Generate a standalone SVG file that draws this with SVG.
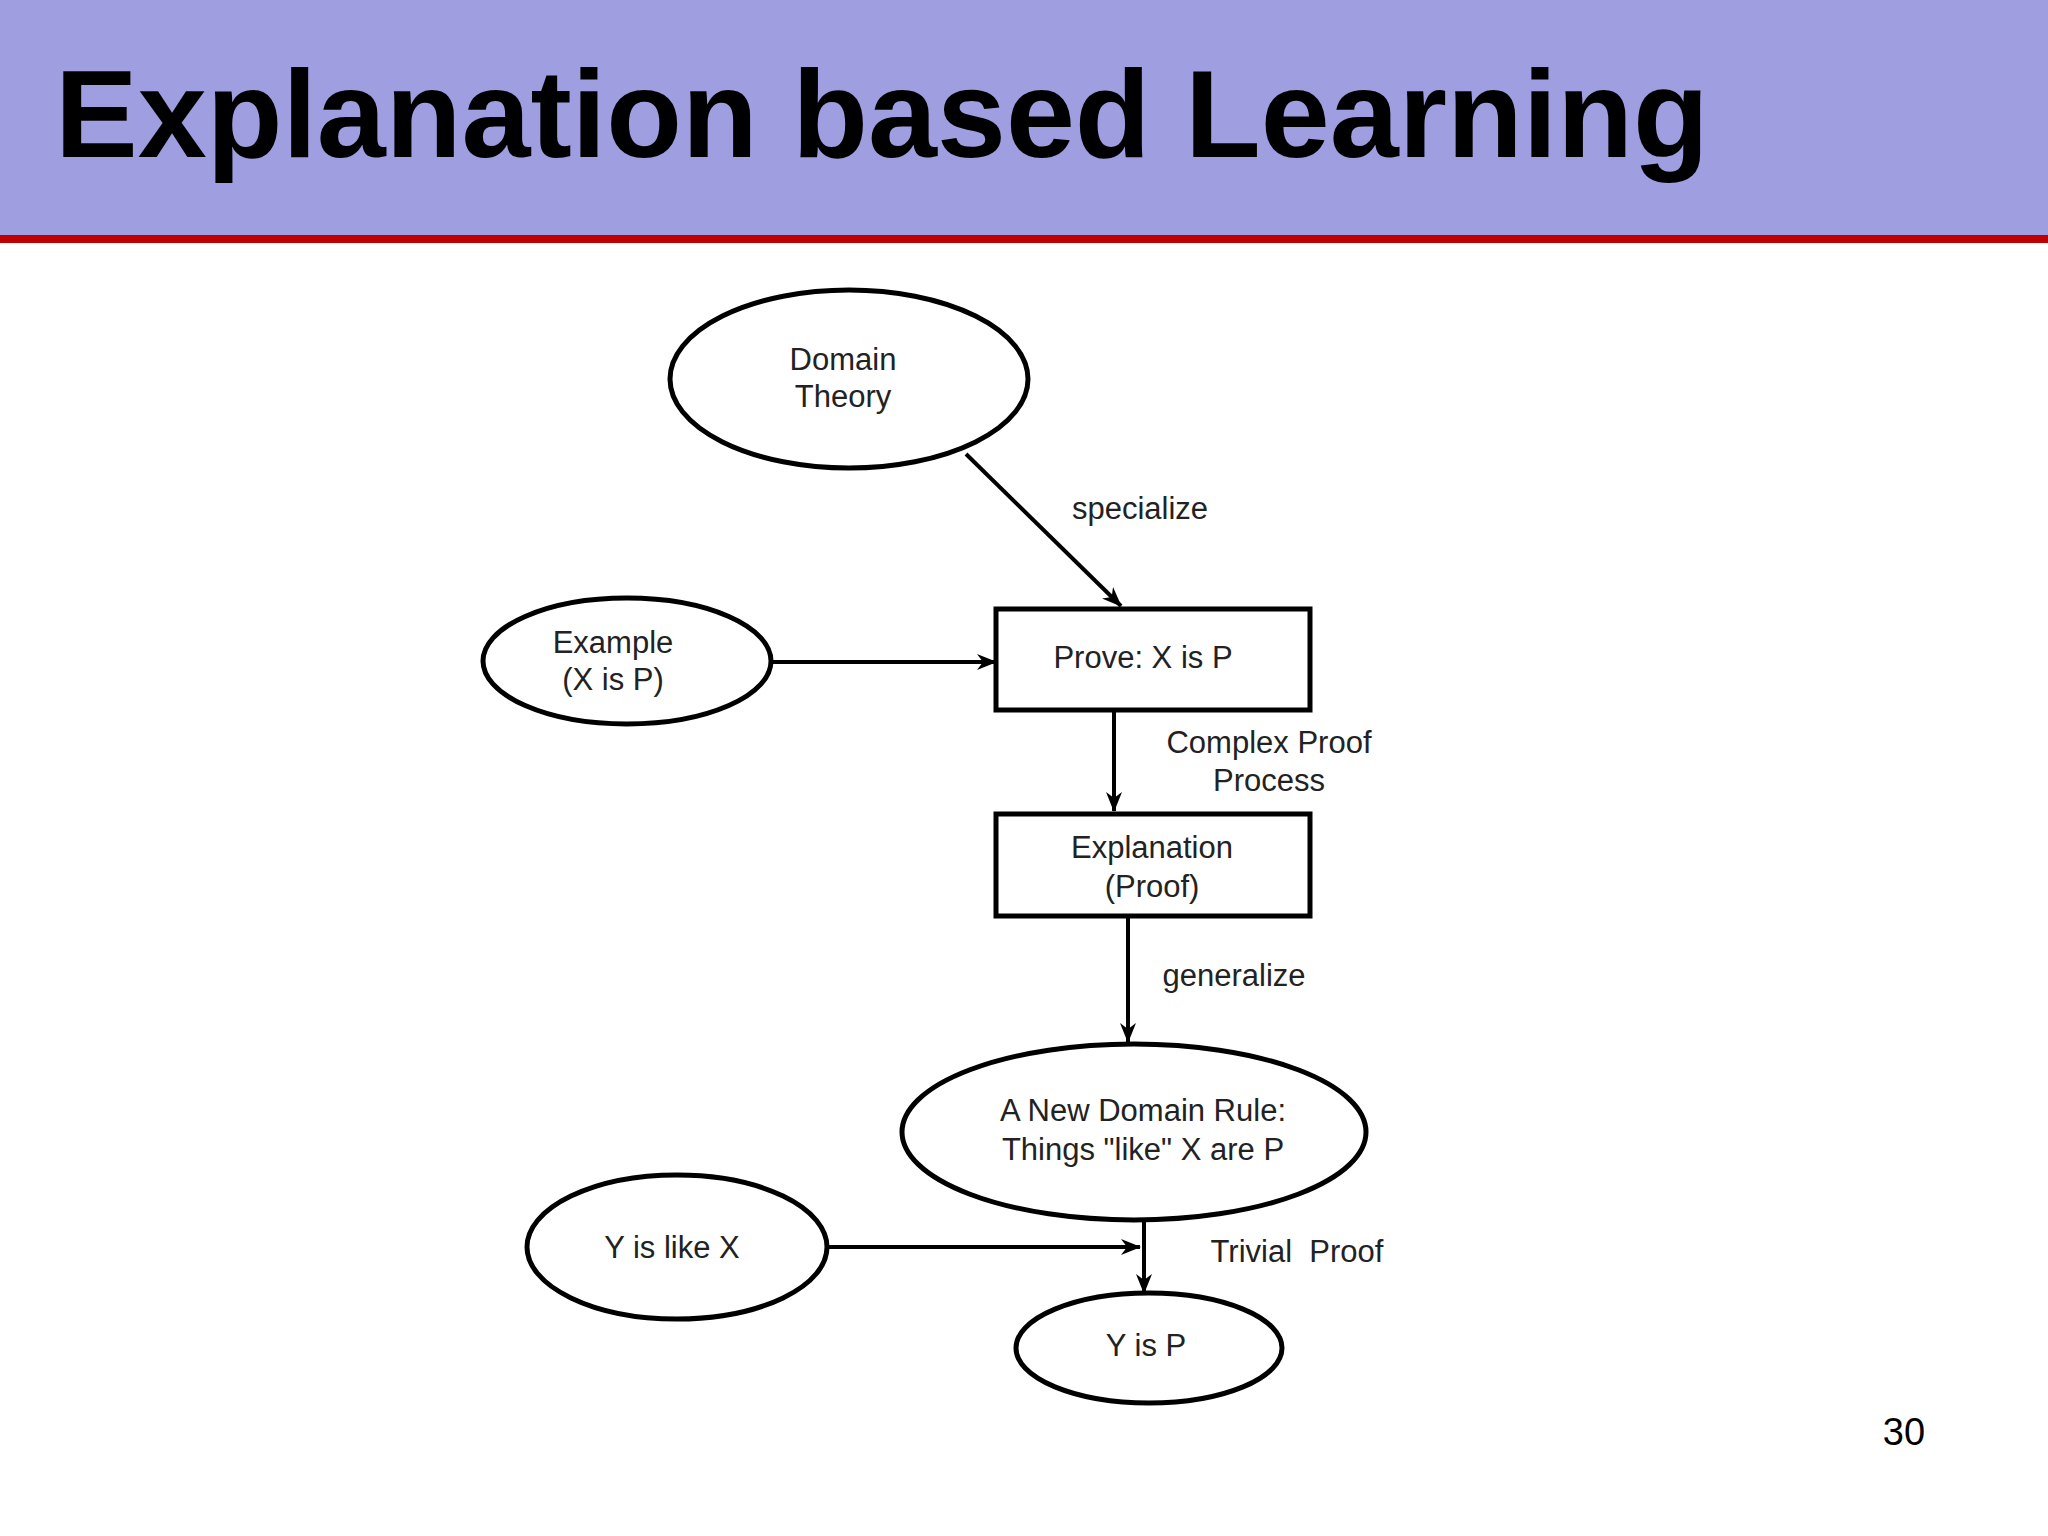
<svg xmlns="http://www.w3.org/2000/svg" width="2048" height="1536" viewBox="0 0 2048 1536">
<style>
.n{fill:#fff;stroke:#000;stroke-width:5}
.t{font-family:"Liberation Sans",Arial,sans-serif;font-size:31px;fill:#222;text-anchor:middle}
.c{stroke:#000;stroke-width:4;fill:none;marker-end:url(#a)}
</style>
<defs><marker id="a" viewBox="0 0 20 16" refX="19" refY="8" markerWidth="20" markerHeight="16" markerUnits="userSpaceOnUse" orient="auto"><path d="M0,0 L20,8 L0,16 L6,8 Z" fill="#000"/></marker></defs>
<rect width="2048" height="1536" fill="#fff"/>
<rect width="2048" height="236" fill="#9e9ee0"/>
<rect y="235" width="2048" height="8" fill="#c00000"/>
<text x="55" y="157" font-family="Liberation Sans,Arial,sans-serif" font-weight="bold" font-size="124" fill="#000">Explanation based Learning</text>
<text x="1904" y="1445" font-family="Liberation Sans,Arial,sans-serif" font-size="38" text-anchor="middle" fill="#000">30</text>
<g id="connectors">
<line class="c" x1="966" y1="454" x2="1121" y2="606"/>
<line class="c" x1="771" y1="662" x2="996" y2="662"/>
<line class="c" x1="1114" y1="710" x2="1114" y2="811"/>
<line class="c" x1="1128" y1="916" x2="1128" y2="1042"/>
<line class="c" x1="1144" y1="1221" x2="1144" y2="1293"/>
<line class="c" x1="827" y1="1247" x2="1140" y2="1247"/>
<text class="t" x="1140" y="519">specialize</text>
<text class="t" x="1269" y="753">Complex Proof</text>
<text class="t" x="1269" y="791">Process</text>
<text class="t" x="1234" y="986">generalize</text>
<text class="t" x="1297" y="1262" xml:space="preserve">Trivial  Proof</text>
</g>
<g id="domain"><ellipse class="n" cx="849" cy="379" rx="179" ry="89"/><text class="t" x="843" y="370">Domain</text><text class="t" x="843" y="407">Theory</text></g>
<g id="example"><ellipse class="n" cx="627" cy="661" rx="144" ry="63"/><text class="t" x="613" y="653">Example</text><text class="t" x="613" y="690">(X is P)</text></g>
<g id="prove"><rect class="n" x="996" y="609" width="314" height="101"/><text class="t" x="1143" y="668">Prove: X is P</text></g>
<g id="explanation"><rect class="n" x="996" y="814" width="314" height="102"/><text class="t" x="1152" y="858">Explanation</text><text class="t" x="1152" y="897">(Proof)</text></g>
<g id="rule"><ellipse class="n" cx="1134" cy="1132" rx="232" ry="88"/><text class="t" x="1143" y="1121">A New Domain Rule:</text><text class="t" x="1143" y="1160">Things "like" X are P</text></g>
<g id="ylike"><ellipse class="n" cx="677" cy="1247" rx="150" ry="72"/><text class="t" x="672" y="1258">Y is like X</text></g>
<g id="yisp"><ellipse class="n" cx="1149" cy="1348" rx="133" ry="55"/><text class="t" x="1146" y="1356">Y is P</text></g>
</svg>
